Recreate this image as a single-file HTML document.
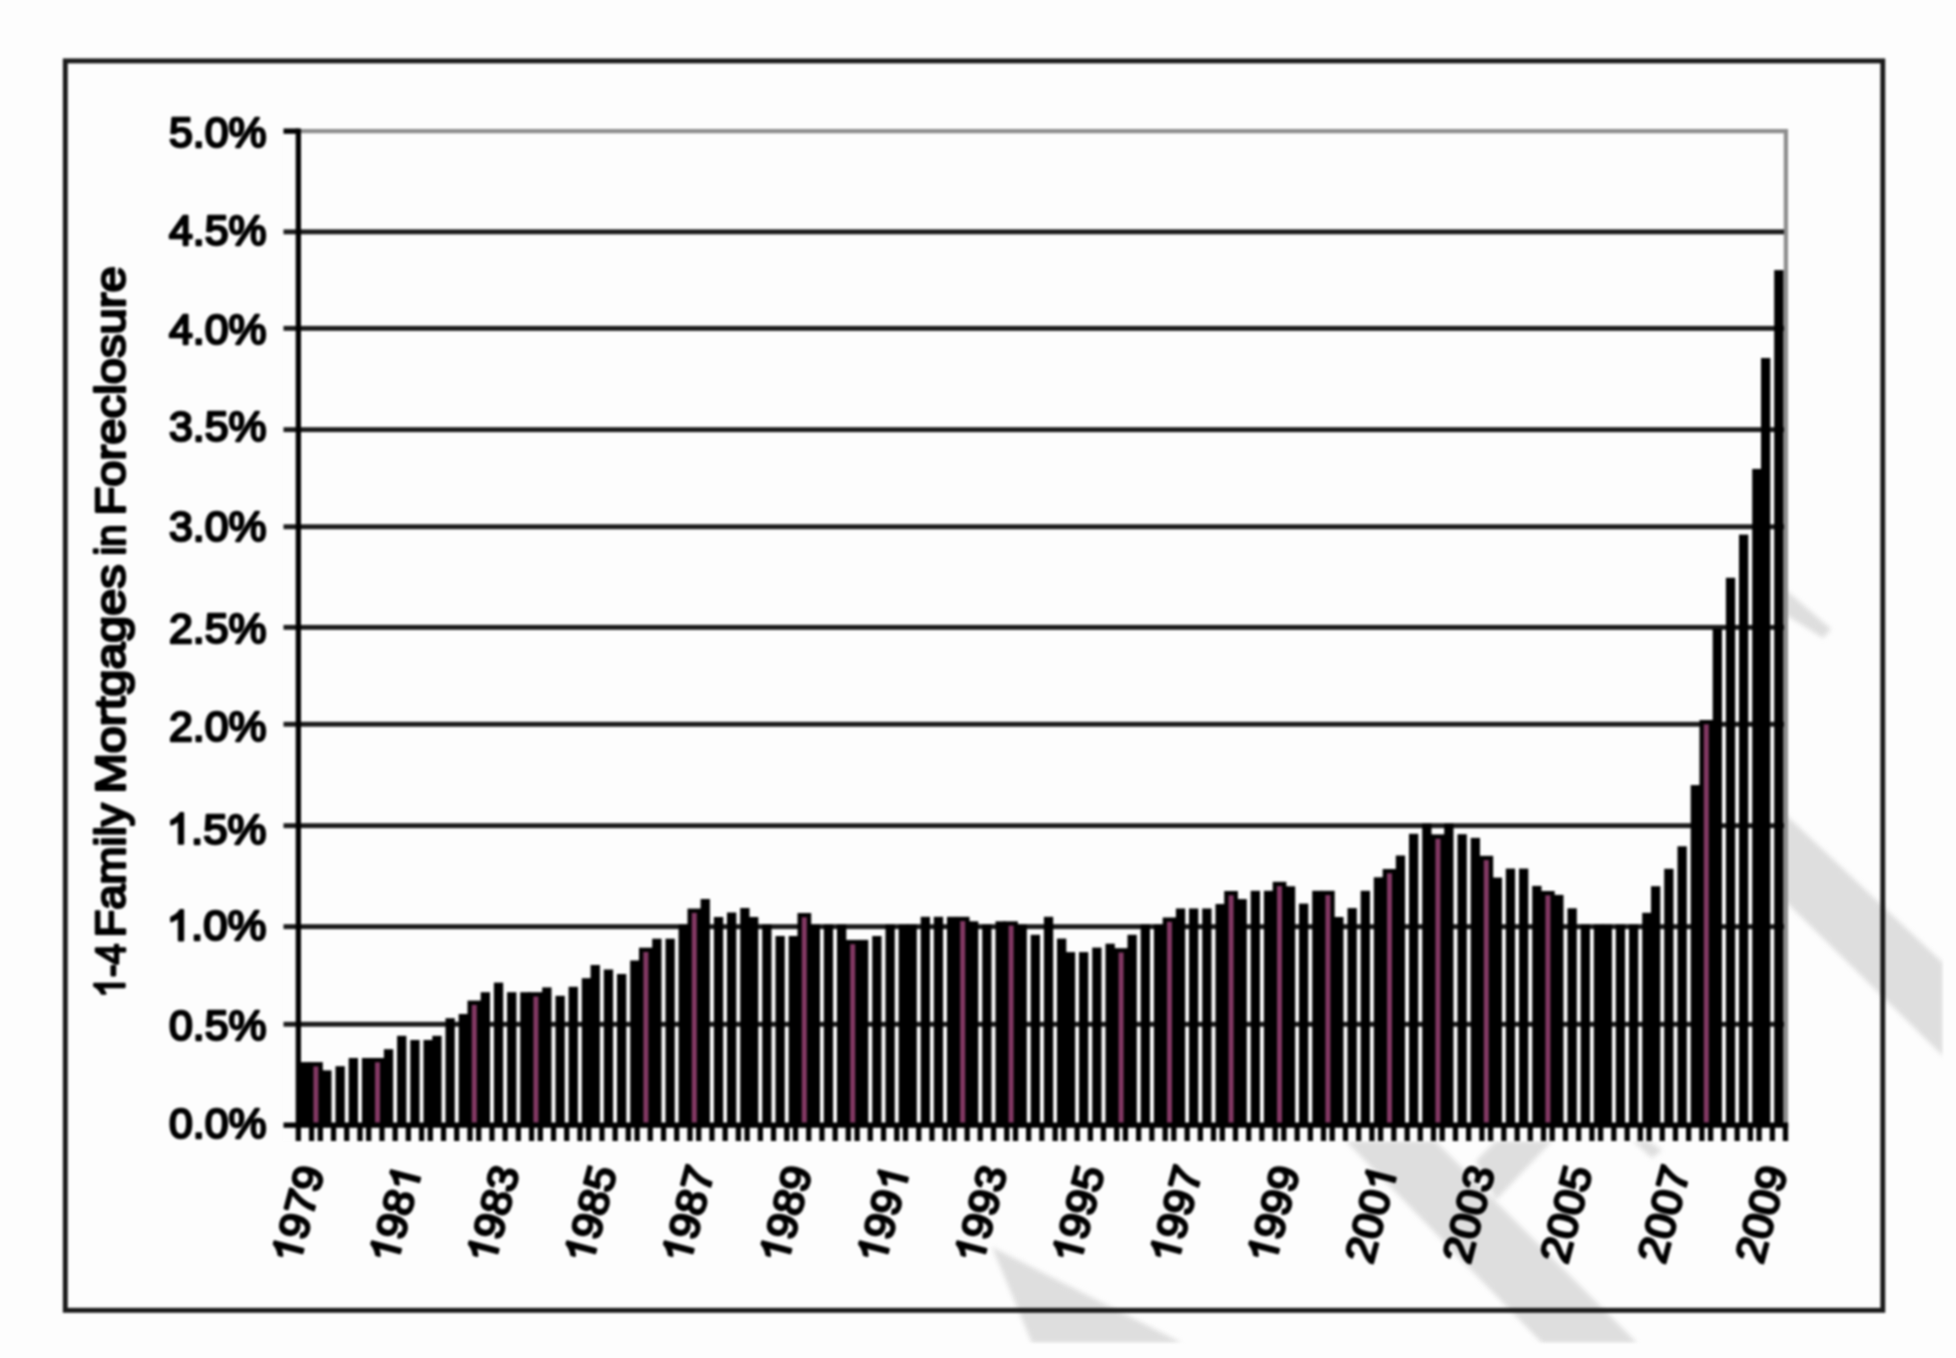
<!DOCTYPE html><html><head><meta charset="utf-8"><title>chart</title><style>html,body{margin:0;padding:0;background:#fdfdfd}body{width:1956px;height:1358px;overflow:hidden}svg{display:block}text{font-family:"Liberation Sans",sans-serif;fill:#000;stroke:#000;stroke-width:2.4px;stroke-linejoin:round}.g1 path{fill:#000;stroke:#000;stroke-linejoin:round}</style></head><body>
<svg width="1956" height="1358" viewBox="0 0 1956 1358">
<defs><filter id="b" color-interpolation-filters="sRGB" x="0" y="0" width="1956" height="1358" filterUnits="userSpaceOnUse"><feGaussianBlur stdDeviation="1.2" color-interpolation-filters="sRGB"/></filter><filter id="b2" color-interpolation-filters="sRGB" x="0" y="0" width="1956" height="1358" filterUnits="userSpaceOnUse"><feGaussianBlur stdDeviation="2.2" color-interpolation-filters="sRGB"/></filter><clipPath id="wm"><rect x="0" y="0" width="1943" height="1343"/></clipPath></defs>
<rect width="1956" height="1358" fill="#fdfdfd"/>
<g filter="url(#b)">
<g fill="#dedede" clip-path="url(#wm)"><g filter="url(#b2)">
<polygon points="992,1247 1032,1343 1182,1343"/>
<polygon points="1346,1141 1435,1141 1637,1343 1542,1343"/>
<polygon points="1476,1161 1496,1141 1552,1141 1496,1200"/>
<polygon points="1633,1141 1648,1141 1662,1150 1652,1158"/>
<polygon points="1786,815 1943,963 1943,1056 1786,902"/>
<polygon points="1786,590 1831,629 1823,638 1786,615"/>
</g></g>
<rect x="283" y="129" width="1505" height="1012" fill="#fdfdfd"/>
<rect x="65.3" y="60.9" width="1817.5" height="1249.4" fill="none" stroke="#1a1a1a" stroke-width="4.9"/>
<path d="M298,131.2H1785.9V1125" fill="none" stroke="#8e8e8e" stroke-width="4.3"/>
<rect x="283.5" y="229.4" width="1500.5" height="4.9" fill="#1a1a1a"/>
<rect x="283.5" y="325.9" width="1500.5" height="4.9" fill="#1a1a1a"/>
<rect x="283.5" y="427.2" width="1500.5" height="4.9" fill="#1a1a1a"/>
<rect x="283.5" y="524.3" width="1500.5" height="4.9" fill="#1a1a1a"/>
<rect x="283.5" y="624.9" width="1500.5" height="4.9" fill="#1a1a1a"/>
<rect x="283.5" y="721.8" width="1500.5" height="4.9" fill="#1a1a1a"/>
<rect x="283.5" y="823.2" width="1500.5" height="4.9" fill="#1a1a1a"/>
<rect x="283.5" y="924.2" width="1500.5" height="4.9" fill="#1a1a1a"/>
<rect x="283.5" y="1021.8" width="1500.5" height="4.9" fill="#1a1a1a"/>
<rect x="300.2" y="1062.1" width="9.3" height="63.1" fill="#000"/>
<rect x="309.1" y="1062.1" width="13.7" height="63.1" fill="#000"/>
<rect x="313.4" y="1066.4" width="5.0" height="58.8" fill="#823863"/>
<rect x="322.2" y="1070.4" width="9.3" height="54.8" fill="#000"/>
<rect x="335.5" y="1066.2" width="9.3" height="59.0" fill="#000"/>
<rect x="348.7" y="1058.0" width="9.3" height="67.2" fill="#000"/>
<rect x="361.9" y="1058.0" width="9.3" height="67.2" fill="#000"/>
<rect x="370.7" y="1058.0" width="13.7" height="67.2" fill="#000"/>
<rect x="375.0" y="1062.3" width="5.0" height="62.9" fill="#823863"/>
<rect x="383.9" y="1049.2" width="9.3" height="76.0" fill="#000"/>
<rect x="397.1" y="1035.8" width="9.3" height="89.4" fill="#000"/>
<rect x="410.3" y="1040.0" width="9.3" height="85.2" fill="#000"/>
<rect x="423.5" y="1040.0" width="9.3" height="85.2" fill="#000"/>
<rect x="432.3" y="1035.8" width="9.3" height="89.4" fill="#000"/>
<rect x="445.5" y="1018.2" width="9.3" height="107.0" fill="#000"/>
<rect x="458.7" y="1014.0" width="9.3" height="111.2" fill="#000"/>
<rect x="467.5" y="1000.6" width="13.7" height="124.6" fill="#000"/>
<rect x="471.8" y="1004.9" width="5.0" height="120.3" fill="#823863"/>
<rect x="480.7" y="992.2" width="9.3" height="133.0" fill="#000"/>
<rect x="493.9" y="982.6" width="9.3" height="142.6" fill="#000"/>
<rect x="507.1" y="992.2" width="9.3" height="133.0" fill="#000"/>
<rect x="520.2" y="992.2" width="9.3" height="133.0" fill="#000"/>
<rect x="529.0" y="992.2" width="13.7" height="133.0" fill="#000"/>
<rect x="533.4" y="996.5" width="5.0" height="128.7" fill="#823863"/>
<rect x="542.2" y="987.4" width="9.3" height="137.8" fill="#000"/>
<rect x="555.5" y="995.8" width="9.3" height="129.4" fill="#000"/>
<rect x="568.6" y="986.8" width="9.3" height="138.4" fill="#000"/>
<rect x="581.8" y="978.2" width="9.3" height="147.0" fill="#000"/>
<rect x="590.6" y="965.0" width="9.3" height="160.2" fill="#000"/>
<rect x="603.8" y="969.5" width="9.3" height="155.7" fill="#000"/>
<rect x="617.0" y="974.0" width="9.3" height="151.2" fill="#000"/>
<rect x="630.2" y="960.5" width="9.3" height="164.7" fill="#000"/>
<rect x="639.0" y="947.7" width="13.7" height="177.5" fill="#000"/>
<rect x="643.4" y="952.0" width="5.0" height="173.2" fill="#823863"/>
<rect x="652.2" y="938.7" width="9.3" height="186.5" fill="#000"/>
<rect x="665.5" y="938.7" width="9.3" height="186.5" fill="#000"/>
<rect x="678.6" y="924.5" width="9.3" height="200.7" fill="#000"/>
<rect x="687.5" y="908.6" width="13.7" height="216.6" fill="#000"/>
<rect x="691.8" y="912.9" width="5.0" height="212.3" fill="#823863"/>
<rect x="700.6" y="899.0" width="9.3" height="226.2" fill="#000"/>
<rect x="713.9" y="917.0" width="9.3" height="208.2" fill="#000"/>
<rect x="727.0" y="912.5" width="9.3" height="212.7" fill="#000"/>
<rect x="740.2" y="908.0" width="9.3" height="217.2" fill="#000"/>
<rect x="749.0" y="917.0" width="9.3" height="208.2" fill="#000"/>
<rect x="762.2" y="924.5" width="9.3" height="200.7" fill="#000"/>
<rect x="775.5" y="936.0" width="9.3" height="189.2" fill="#000"/>
<rect x="788.7" y="936.0" width="9.3" height="189.2" fill="#000"/>
<rect x="797.5" y="913.0" width="13.7" height="212.2" fill="#000"/>
<rect x="801.8" y="917.3" width="5.0" height="207.9" fill="#823863"/>
<rect x="810.7" y="924.5" width="9.3" height="200.7" fill="#000"/>
<rect x="823.8" y="924.5" width="9.3" height="200.7" fill="#000"/>
<rect x="837.0" y="924.5" width="9.3" height="200.7" fill="#000"/>
<rect x="845.8" y="939.9" width="13.7" height="185.3" fill="#000"/>
<rect x="850.2" y="944.2" width="5.0" height="181.0" fill="#823863"/>
<rect x="859.0" y="939.9" width="9.3" height="185.3" fill="#000"/>
<rect x="872.2" y="936.0" width="9.3" height="189.2" fill="#000"/>
<rect x="885.5" y="924.5" width="9.3" height="200.7" fill="#000"/>
<rect x="898.7" y="924.5" width="9.3" height="200.7" fill="#000"/>
<rect x="907.5" y="924.5" width="9.3" height="200.7" fill="#000"/>
<rect x="920.7" y="916.8" width="9.3" height="208.4" fill="#000"/>
<rect x="933.8" y="916.8" width="9.3" height="208.4" fill="#000"/>
<rect x="947.0" y="916.8" width="9.3" height="208.4" fill="#000"/>
<rect x="955.8" y="916.8" width="13.7" height="208.4" fill="#000"/>
<rect x="960.2" y="921.1" width="5.0" height="204.1" fill="#823863"/>
<rect x="969.0" y="921.3" width="9.3" height="203.9" fill="#000"/>
<rect x="982.2" y="924.5" width="9.3" height="200.7" fill="#000"/>
<rect x="995.5" y="921.3" width="9.3" height="203.9" fill="#000"/>
<rect x="1004.2" y="921.3" width="13.7" height="203.9" fill="#000"/>
<rect x="1008.6" y="925.6" width="5.0" height="199.6" fill="#823863"/>
<rect x="1017.5" y="924.5" width="9.3" height="200.7" fill="#000"/>
<rect x="1030.7" y="934.8" width="9.3" height="190.4" fill="#000"/>
<rect x="1043.9" y="916.8" width="9.3" height="208.4" fill="#000"/>
<rect x="1057.0" y="938.6" width="9.3" height="186.6" fill="#000"/>
<rect x="1065.9" y="952.1" width="9.3" height="173.1" fill="#000"/>
<rect x="1079.0" y="952.1" width="9.3" height="173.1" fill="#000"/>
<rect x="1092.2" y="947.6" width="9.3" height="177.6" fill="#000"/>
<rect x="1105.5" y="943.7" width="9.3" height="181.5" fill="#000"/>
<rect x="1114.2" y="948.2" width="13.7" height="177.0" fill="#000"/>
<rect x="1118.6" y="952.5" width="5.0" height="172.7" fill="#823863"/>
<rect x="1127.5" y="934.8" width="9.3" height="190.4" fill="#000"/>
<rect x="1140.7" y="924.5" width="9.3" height="200.7" fill="#000"/>
<rect x="1153.9" y="924.5" width="9.3" height="200.7" fill="#000"/>
<rect x="1162.7" y="917.5" width="13.7" height="207.7" fill="#000"/>
<rect x="1167.0" y="921.8" width="5.0" height="203.4" fill="#823863"/>
<rect x="1175.9" y="908.5" width="9.3" height="216.7" fill="#000"/>
<rect x="1189.0" y="908.5" width="9.3" height="216.7" fill="#000"/>
<rect x="1202.2" y="908.5" width="9.3" height="216.7" fill="#000"/>
<rect x="1215.5" y="904.0" width="9.3" height="221.2" fill="#000"/>
<rect x="1224.2" y="891.0" width="13.7" height="234.2" fill="#000"/>
<rect x="1228.6" y="895.3" width="5.0" height="229.9" fill="#823863"/>
<rect x="1237.5" y="899.1" width="9.3" height="226.1" fill="#000"/>
<rect x="1250.7" y="890.8" width="9.3" height="234.4" fill="#000"/>
<rect x="1263.9" y="890.8" width="9.3" height="234.4" fill="#000"/>
<rect x="1272.7" y="881.8" width="13.7" height="243.4" fill="#000"/>
<rect x="1277.0" y="886.1" width="5.0" height="239.1" fill="#823863"/>
<rect x="1285.9" y="886.3" width="9.3" height="238.9" fill="#000"/>
<rect x="1299.0" y="903.6" width="9.3" height="221.6" fill="#000"/>
<rect x="1312.2" y="890.8" width="9.3" height="234.4" fill="#000"/>
<rect x="1321.0" y="890.8" width="13.7" height="234.4" fill="#000"/>
<rect x="1325.4" y="895.1" width="5.0" height="230.1" fill="#823863"/>
<rect x="1334.2" y="917.0" width="9.3" height="208.2" fill="#000"/>
<rect x="1347.5" y="908.1" width="9.3" height="217.1" fill="#000"/>
<rect x="1360.7" y="890.8" width="9.3" height="234.4" fill="#000"/>
<rect x="1373.8" y="877.3" width="9.3" height="247.9" fill="#000"/>
<rect x="1382.7" y="869.0" width="13.7" height="256.2" fill="#000"/>
<rect x="1387.0" y="873.3" width="5.0" height="251.9" fill="#823863"/>
<rect x="1395.8" y="855.5" width="9.3" height="269.7" fill="#000"/>
<rect x="1409.0" y="833.8" width="9.3" height="291.4" fill="#000"/>
<rect x="1422.2" y="823.5" width="9.3" height="301.7" fill="#000"/>
<rect x="1431.0" y="834.4" width="13.7" height="290.8" fill="#000"/>
<rect x="1435.4" y="838.7" width="5.0" height="286.5" fill="#823863"/>
<rect x="1444.2" y="823.5" width="9.3" height="301.7" fill="#000"/>
<rect x="1457.5" y="834.2" width="9.3" height="291.0" fill="#000"/>
<rect x="1470.7" y="837.9" width="9.3" height="287.3" fill="#000"/>
<rect x="1479.5" y="855.8" width="13.7" height="269.4" fill="#000"/>
<rect x="1483.8" y="860.1" width="5.0" height="265.1" fill="#823863"/>
<rect x="1492.7" y="877.6" width="9.3" height="247.6" fill="#000"/>
<rect x="1505.8" y="868.6" width="9.3" height="256.6" fill="#000"/>
<rect x="1519.0" y="868.6" width="9.3" height="256.6" fill="#000"/>
<rect x="1532.2" y="885.9" width="9.3" height="239.3" fill="#000"/>
<rect x="1541.0" y="891.0" width="13.7" height="234.2" fill="#000"/>
<rect x="1545.4" y="895.3" width="5.0" height="229.9" fill="#823863"/>
<rect x="1554.2" y="894.9" width="9.3" height="230.3" fill="#000"/>
<rect x="1567.5" y="908.3" width="9.3" height="216.9" fill="#000"/>
<rect x="1580.7" y="924.5" width="9.3" height="200.7" fill="#000"/>
<rect x="1593.8" y="924.5" width="9.3" height="200.7" fill="#000"/>
<rect x="1602.7" y="924.5" width="9.3" height="200.7" fill="#000"/>
<rect x="1615.8" y="924.5" width="9.3" height="200.7" fill="#000"/>
<rect x="1629.0" y="924.5" width="9.3" height="200.7" fill="#000"/>
<rect x="1642.2" y="912.8" width="9.3" height="212.4" fill="#000"/>
<rect x="1651.0" y="886.2" width="9.3" height="239.0" fill="#000"/>
<rect x="1664.2" y="868.8" width="9.3" height="256.4" fill="#000"/>
<rect x="1677.5" y="846.3" width="9.3" height="278.9" fill="#000"/>
<rect x="1690.7" y="785.1" width="9.3" height="340.1" fill="#000"/>
<rect x="1699.5" y="720.0" width="13.7" height="405.2" fill="#000"/>
<rect x="1703.8" y="724.3" width="5.0" height="400.9" fill="#823863"/>
<rect x="1712.7" y="628.7" width="9.3" height="496.5" fill="#000"/>
<rect x="1725.9" y="577.8" width="9.3" height="547.4" fill="#000"/>
<rect x="1739.0" y="534.6" width="9.3" height="590.6" fill="#000"/>
<rect x="1752.2" y="468.9" width="9.3" height="656.3" fill="#000"/>
<rect x="1761.0" y="358.0" width="9.3" height="767.2" fill="#000"/>
<rect x="1774.2" y="270.1" width="9.3" height="855.1" fill="#000"/>
<rect x="308.1" y="1062.3" width="2.4" height="62.9" fill="#000"/>
<rect x="321.3" y="1070.6" width="2.4" height="54.6" fill="#000"/>
<rect x="369.7" y="1058.2" width="2.4" height="67.0" fill="#000"/>
<rect x="382.9" y="1058.2" width="2.4" height="67.0" fill="#000"/>
<rect x="431.3" y="1040.2" width="2.4" height="85.0" fill="#000"/>
<rect x="466.5" y="1014.2" width="2.4" height="111.0" fill="#000"/>
<rect x="479.7" y="1000.8" width="2.4" height="124.4" fill="#000"/>
<rect x="528.1" y="992.4" width="2.4" height="132.8" fill="#000"/>
<rect x="541.3" y="992.4" width="2.4" height="132.8" fill="#000"/>
<rect x="589.7" y="978.4" width="2.4" height="146.8" fill="#000"/>
<rect x="638.1" y="960.7" width="2.4" height="164.5" fill="#000"/>
<rect x="651.3" y="947.9" width="2.4" height="177.3" fill="#000"/>
<rect x="686.5" y="924.7" width="2.4" height="200.5" fill="#000"/>
<rect x="699.7" y="908.8" width="2.4" height="216.4" fill="#000"/>
<rect x="748.1" y="917.2" width="2.4" height="208.0" fill="#000"/>
<rect x="796.5" y="936.2" width="2.4" height="189.0" fill="#000"/>
<rect x="809.7" y="924.7" width="2.4" height="200.5" fill="#000"/>
<rect x="844.9" y="940.1" width="2.4" height="185.1" fill="#000"/>
<rect x="858.1" y="940.1" width="2.4" height="185.1" fill="#000"/>
<rect x="906.5" y="924.7" width="2.4" height="200.5" fill="#000"/>
<rect x="954.9" y="917.0" width="2.4" height="208.2" fill="#000"/>
<rect x="968.1" y="921.5" width="2.4" height="203.7" fill="#000"/>
<rect x="1003.3" y="921.5" width="2.4" height="203.7" fill="#000"/>
<rect x="1016.5" y="924.7" width="2.4" height="200.5" fill="#000"/>
<rect x="1064.9" y="952.3" width="2.4" height="172.9" fill="#000"/>
<rect x="1113.3" y="948.4" width="2.4" height="176.8" fill="#000"/>
<rect x="1126.5" y="948.4" width="2.4" height="176.8" fill="#000"/>
<rect x="1161.7" y="924.7" width="2.4" height="200.5" fill="#000"/>
<rect x="1174.9" y="917.7" width="2.4" height="207.5" fill="#000"/>
<rect x="1223.3" y="904.2" width="2.4" height="221.0" fill="#000"/>
<rect x="1236.5" y="899.3" width="2.4" height="225.9" fill="#000"/>
<rect x="1271.7" y="891.0" width="2.4" height="234.2" fill="#000"/>
<rect x="1284.9" y="886.5" width="2.4" height="238.7" fill="#000"/>
<rect x="1320.1" y="891.0" width="2.4" height="234.2" fill="#000"/>
<rect x="1333.3" y="917.2" width="2.4" height="208.0" fill="#000"/>
<rect x="1381.7" y="877.5" width="2.4" height="247.7" fill="#000"/>
<rect x="1394.9" y="869.2" width="2.4" height="256.0" fill="#000"/>
<rect x="1430.1" y="834.6" width="2.4" height="290.6" fill="#000"/>
<rect x="1443.3" y="834.6" width="2.4" height="290.6" fill="#000"/>
<rect x="1478.5" y="856.0" width="2.4" height="269.2" fill="#000"/>
<rect x="1491.7" y="877.8" width="2.4" height="247.4" fill="#000"/>
<rect x="1540.1" y="891.2" width="2.4" height="234.0" fill="#000"/>
<rect x="1553.3" y="895.1" width="2.4" height="230.1" fill="#000"/>
<rect x="1601.7" y="924.7" width="2.4" height="200.5" fill="#000"/>
<rect x="1650.1" y="913.0" width="2.4" height="212.2" fill="#000"/>
<rect x="1698.5" y="785.3" width="2.4" height="339.9" fill="#000"/>
<rect x="1711.7" y="720.2" width="2.4" height="405.0" fill="#000"/>
<rect x="1760.1" y="469.1" width="2.4" height="656.1" fill="#000"/>
<rect x="295.7" y="128.5" width="5.3" height="999.4" fill="#000"/>
<rect x="283.5" y="1122.5" width="1504.7" height="5.3" fill="#000"/>
<rect x="283.5" y="128.5" width="15" height="5.3" fill="#000"/>
<rect x="295.7" y="1125.2" width="5.3" height="15.8" fill="#000"/>
<rect x="308.9" y="1125.2" width="5.3" height="15.8" fill="#000"/>
<rect x="317.7" y="1125.2" width="5.3" height="15.8" fill="#000"/>
<rect x="330.9" y="1125.2" width="5.3" height="15.8" fill="#000"/>
<rect x="344.1" y="1125.2" width="5.3" height="15.8" fill="#000"/>
<rect x="357.3" y="1125.2" width="5.3" height="15.8" fill="#000"/>
<rect x="366.1" y="1125.2" width="5.3" height="15.8" fill="#000"/>
<rect x="379.3" y="1125.2" width="5.3" height="15.8" fill="#000"/>
<rect x="392.5" y="1125.2" width="5.3" height="15.8" fill="#000"/>
<rect x="405.7" y="1125.2" width="5.3" height="15.8" fill="#000"/>
<rect x="418.9" y="1125.2" width="5.3" height="15.8" fill="#000"/>
<rect x="427.7" y="1125.2" width="5.3" height="15.8" fill="#000"/>
<rect x="440.9" y="1125.2" width="5.3" height="15.8" fill="#000"/>
<rect x="454.1" y="1125.2" width="5.3" height="15.8" fill="#000"/>
<rect x="467.3" y="1125.2" width="5.3" height="15.8" fill="#000"/>
<rect x="476.1" y="1125.2" width="5.3" height="15.8" fill="#000"/>
<rect x="489.3" y="1125.2" width="5.3" height="15.8" fill="#000"/>
<rect x="502.5" y="1125.2" width="5.3" height="15.8" fill="#000"/>
<rect x="515.7" y="1125.2" width="5.3" height="15.8" fill="#000"/>
<rect x="528.9" y="1125.2" width="5.3" height="15.8" fill="#000"/>
<rect x="537.7" y="1125.2" width="5.3" height="15.8" fill="#000"/>
<rect x="550.9" y="1125.2" width="5.3" height="15.8" fill="#000"/>
<rect x="564.1" y="1125.2" width="5.3" height="15.8" fill="#000"/>
<rect x="577.3" y="1125.2" width="5.3" height="15.8" fill="#000"/>
<rect x="586.1" y="1125.2" width="5.3" height="15.8" fill="#000"/>
<rect x="599.3" y="1125.2" width="5.3" height="15.8" fill="#000"/>
<rect x="612.5" y="1125.2" width="5.3" height="15.8" fill="#000"/>
<rect x="625.6" y="1125.2" width="5.3" height="15.8" fill="#000"/>
<rect x="634.5" y="1125.2" width="5.3" height="15.8" fill="#000"/>
<rect x="647.6" y="1125.2" width="5.3" height="15.8" fill="#000"/>
<rect x="660.9" y="1125.2" width="5.3" height="15.8" fill="#000"/>
<rect x="674.1" y="1125.2" width="5.3" height="15.8" fill="#000"/>
<rect x="687.3" y="1125.2" width="5.3" height="15.8" fill="#000"/>
<rect x="696.1" y="1125.2" width="5.3" height="15.8" fill="#000"/>
<rect x="709.3" y="1125.2" width="5.3" height="15.8" fill="#000"/>
<rect x="722.5" y="1125.2" width="5.3" height="15.8" fill="#000"/>
<rect x="735.7" y="1125.2" width="5.3" height="15.8" fill="#000"/>
<rect x="744.5" y="1125.2" width="5.3" height="15.8" fill="#000"/>
<rect x="757.7" y="1125.2" width="5.3" height="15.8" fill="#000"/>
<rect x="770.9" y="1125.2" width="5.3" height="15.8" fill="#000"/>
<rect x="784.1" y="1125.2" width="5.3" height="15.8" fill="#000"/>
<rect x="792.9" y="1125.2" width="5.3" height="15.8" fill="#000"/>
<rect x="806.1" y="1125.2" width="5.3" height="15.8" fill="#000"/>
<rect x="819.3" y="1125.2" width="5.3" height="15.8" fill="#000"/>
<rect x="832.5" y="1125.2" width="5.3" height="15.8" fill="#000"/>
<rect x="845.6" y="1125.2" width="5.3" height="15.8" fill="#000"/>
<rect x="854.5" y="1125.2" width="5.3" height="15.8" fill="#000"/>
<rect x="867.6" y="1125.2" width="5.3" height="15.8" fill="#000"/>
<rect x="880.9" y="1125.2" width="5.3" height="15.8" fill="#000"/>
<rect x="894.1" y="1125.2" width="5.3" height="15.8" fill="#000"/>
<rect x="902.9" y="1125.2" width="5.3" height="15.8" fill="#000"/>
<rect x="916.1" y="1125.2" width="5.3" height="15.8" fill="#000"/>
<rect x="929.3" y="1125.2" width="5.3" height="15.8" fill="#000"/>
<rect x="942.5" y="1125.2" width="5.3" height="15.8" fill="#000"/>
<rect x="951.3" y="1125.2" width="5.3" height="15.8" fill="#000"/>
<rect x="964.5" y="1125.2" width="5.3" height="15.8" fill="#000"/>
<rect x="977.6" y="1125.2" width="5.3" height="15.8" fill="#000"/>
<rect x="990.9" y="1125.2" width="5.3" height="15.8" fill="#000"/>
<rect x="1004.1" y="1125.2" width="5.3" height="15.8" fill="#000"/>
<rect x="1012.9" y="1125.2" width="5.3" height="15.8" fill="#000"/>
<rect x="1026.0" y="1125.2" width="5.3" height="15.8" fill="#000"/>
<rect x="1039.2" y="1125.2" width="5.3" height="15.8" fill="#000"/>
<rect x="1052.5" y="1125.2" width="5.3" height="15.8" fill="#000"/>
<rect x="1061.2" y="1125.2" width="5.3" height="15.8" fill="#000"/>
<rect x="1074.5" y="1125.2" width="5.3" height="15.8" fill="#000"/>
<rect x="1087.7" y="1125.2" width="5.3" height="15.8" fill="#000"/>
<rect x="1100.8" y="1125.2" width="5.3" height="15.8" fill="#000"/>
<rect x="1114.0" y="1125.2" width="5.3" height="15.8" fill="#000"/>
<rect x="1122.8" y="1125.2" width="5.3" height="15.8" fill="#000"/>
<rect x="1136.0" y="1125.2" width="5.3" height="15.8" fill="#000"/>
<rect x="1149.2" y="1125.2" width="5.3" height="15.8" fill="#000"/>
<rect x="1162.5" y="1125.2" width="5.3" height="15.8" fill="#000"/>
<rect x="1171.2" y="1125.2" width="5.3" height="15.8" fill="#000"/>
<rect x="1184.5" y="1125.2" width="5.3" height="15.8" fill="#000"/>
<rect x="1197.7" y="1125.2" width="5.3" height="15.8" fill="#000"/>
<rect x="1210.8" y="1125.2" width="5.3" height="15.8" fill="#000"/>
<rect x="1219.7" y="1125.2" width="5.3" height="15.8" fill="#000"/>
<rect x="1232.8" y="1125.2" width="5.3" height="15.8" fill="#000"/>
<rect x="1246.0" y="1125.2" width="5.3" height="15.8" fill="#000"/>
<rect x="1259.2" y="1125.2" width="5.3" height="15.8" fill="#000"/>
<rect x="1272.5" y="1125.2" width="5.3" height="15.8" fill="#000"/>
<rect x="1281.2" y="1125.2" width="5.3" height="15.8" fill="#000"/>
<rect x="1294.5" y="1125.2" width="5.3" height="15.8" fill="#000"/>
<rect x="1307.7" y="1125.2" width="5.3" height="15.8" fill="#000"/>
<rect x="1320.8" y="1125.2" width="5.3" height="15.8" fill="#000"/>
<rect x="1329.6" y="1125.2" width="5.3" height="15.8" fill="#000"/>
<rect x="1342.8" y="1125.2" width="5.3" height="15.8" fill="#000"/>
<rect x="1356.0" y="1125.2" width="5.3" height="15.8" fill="#000"/>
<rect x="1369.2" y="1125.2" width="5.3" height="15.8" fill="#000"/>
<rect x="1378.0" y="1125.2" width="5.3" height="15.8" fill="#000"/>
<rect x="1391.2" y="1125.2" width="5.3" height="15.8" fill="#000"/>
<rect x="1404.5" y="1125.2" width="5.3" height="15.8" fill="#000"/>
<rect x="1417.6" y="1125.2" width="5.3" height="15.8" fill="#000"/>
<rect x="1430.8" y="1125.2" width="5.3" height="15.8" fill="#000"/>
<rect x="1439.6" y="1125.2" width="5.3" height="15.8" fill="#000"/>
<rect x="1452.8" y="1125.2" width="5.3" height="15.8" fill="#000"/>
<rect x="1466.0" y="1125.2" width="5.3" height="15.8" fill="#000"/>
<rect x="1479.2" y="1125.2" width="5.3" height="15.8" fill="#000"/>
<rect x="1488.0" y="1125.2" width="5.3" height="15.8" fill="#000"/>
<rect x="1501.2" y="1125.2" width="5.3" height="15.8" fill="#000"/>
<rect x="1514.5" y="1125.2" width="5.3" height="15.8" fill="#000"/>
<rect x="1527.6" y="1125.2" width="5.3" height="15.8" fill="#000"/>
<rect x="1540.8" y="1125.2" width="5.3" height="15.8" fill="#000"/>
<rect x="1549.6" y="1125.2" width="5.3" height="15.8" fill="#000"/>
<rect x="1562.8" y="1125.2" width="5.3" height="15.8" fill="#000"/>
<rect x="1576.0" y="1125.2" width="5.3" height="15.8" fill="#000"/>
<rect x="1589.2" y="1125.2" width="5.3" height="15.8" fill="#000"/>
<rect x="1598.0" y="1125.2" width="5.3" height="15.8" fill="#000"/>
<rect x="1611.2" y="1125.2" width="5.3" height="15.8" fill="#000"/>
<rect x="1624.5" y="1125.2" width="5.3" height="15.8" fill="#000"/>
<rect x="1637.6" y="1125.2" width="5.3" height="15.8" fill="#000"/>
<rect x="1646.5" y="1125.2" width="5.3" height="15.8" fill="#000"/>
<rect x="1659.6" y="1125.2" width="5.3" height="15.8" fill="#000"/>
<rect x="1672.8" y="1125.2" width="5.3" height="15.8" fill="#000"/>
<rect x="1686.0" y="1125.2" width="5.3" height="15.8" fill="#000"/>
<rect x="1699.2" y="1125.2" width="5.3" height="15.8" fill="#000"/>
<rect x="1708.0" y="1125.2" width="5.3" height="15.8" fill="#000"/>
<rect x="1721.2" y="1125.2" width="5.3" height="15.8" fill="#000"/>
<rect x="1734.5" y="1125.2" width="5.3" height="15.8" fill="#000"/>
<rect x="1747.7" y="1125.2" width="5.3" height="15.8" fill="#000"/>
<rect x="1756.5" y="1125.2" width="5.3" height="15.8" fill="#000"/>
<rect x="1769.7" y="1125.2" width="5.3" height="15.8" fill="#000"/>
<rect x="1782.8" y="1125.2" width="5.3" height="15.8" fill="#000"/>
<text x="266.5" y="146.9" font-size="42" text-anchor="end" textLength="97.5" lengthAdjust="spacingAndGlyphs">5.0%</text>
<text x="266.5" y="244.7" font-size="42" text-anchor="end" textLength="97.5" lengthAdjust="spacingAndGlyphs">4.5%</text>
<text x="266.5" y="344.3" font-size="42" text-anchor="end" textLength="97.5" lengthAdjust="spacingAndGlyphs">4.0%</text>
<text x="266.5" y="440.7" font-size="42" text-anchor="end" textLength="97.5" lengthAdjust="spacingAndGlyphs">3.5%</text>
<text x="266.5" y="540.8" font-size="42" text-anchor="end" textLength="97.5" lengthAdjust="spacingAndGlyphs">3.0%</text>
<text x="266.5" y="642.6" font-size="42" text-anchor="end" textLength="97.5" lengthAdjust="spacingAndGlyphs">2.5%</text>
<text x="266.5" y="741.1" font-size="42" text-anchor="end" textLength="97.5" lengthAdjust="spacingAndGlyphs">2.0%</text>
<g transform="translate(0,843.5)" class="g1">
<path d="M763 0H583V-1147Q518-1085 412.5-1023Q307-961 223-930V-1104Q374-1175 487-1276Q600-1377 647-1472H763Z" transform="translate(166.58,0) scale(0.02141,0.02051)" stroke-width="117.0"/>
<text x="266.5" y="0" font-size="42" text-anchor="end" textLength="75.5" lengthAdjust="spacingAndGlyphs">.5%</text></g>
<g transform="translate(0,940.3)" class="g1">
<path d="M763 0H583V-1147Q518-1085 412.5-1023Q307-961 223-930V-1104Q374-1175 487-1276Q600-1377 647-1472H763Z" transform="translate(166.58,0) scale(0.02141,0.02051)" stroke-width="117.0"/>
<text x="266.5" y="0" font-size="42" text-anchor="end" textLength="75.5" lengthAdjust="spacingAndGlyphs">.0%</text></g>
<text x="266.5" y="1039.8" font-size="42" text-anchor="end" textLength="97.5" lengthAdjust="spacingAndGlyphs">0.5%</text>
<text x="266.5" y="1138.2" font-size="42" text-anchor="end" textLength="97.5" lengthAdjust="spacingAndGlyphs">0.0%</text>
<g transform="translate(124.5,997.8) rotate(-90)" class="g1">
<path d="M763 0H583V-1147Q518-1085 412.5-1023Q307-961 223-930V-1104Q374-1175 487-1276Q600-1377 647-1472H763Z" transform="translate(0.00,0) scale(0.01835,0.02051)" stroke-width="117.0"/>
<text x="20.9" y="0" font-size="42" textLength="33.4" lengthAdjust="spacingAndGlyphs">-4</text></g>
<text transform="translate(124.5,937.5) rotate(-90)" font-size="42" textLength="134.0" lengthAdjust="spacingAndGlyphs">Family</text>
<text transform="translate(124.5,793.5) rotate(-90)" font-size="42" textLength="229.0" lengthAdjust="spacingAndGlyphs">Mortgages</text>
<text transform="translate(124.5,555.5) rotate(-90)" font-size="42" textLength="31.0" lengthAdjust="spacingAndGlyphs">in</text>
<text transform="translate(124.5,515.5) rotate(-90)" font-size="42" textLength="249.3" lengthAdjust="spacingAndGlyphs">Foreclosure</text>
<g transform="translate(297.7,1214) rotate(-75) translate(-49.1,14.6)" class="g1">
<path d="M763 0H583V-1147Q518-1085 412.5-1023Q307-961 223-930V-1104Q374-1175 487-1276Q600-1377 647-1472H763Z" transform="translate(0.00,0) scale(0.02158,0.02026)" stroke-width="118.4"/>
<text x="24.6" y="0" font-size="41.5" textLength="73.7" lengthAdjust="spacingAndGlyphs">979</text>
</g>
<g transform="translate(395.2,1214) rotate(-75) translate(-49.1,14.6)" class="g1">
<path d="M763 0H583V-1147Q518-1085 412.5-1023Q307-961 223-930V-1104Q374-1175 487-1276Q600-1377 647-1472H763Z" transform="translate(0.00,0) scale(0.02158,0.02026)" stroke-width="118.4"/>
<text x="24.6" y="0" font-size="41.5" textLength="49.1" lengthAdjust="spacingAndGlyphs">98</text>
<path d="M763 0H583V-1147Q518-1085 412.5-1023Q307-961 223-930V-1104Q374-1175 487-1276Q600-1377 647-1472H763Z" transform="translate(73.72,0) scale(0.02158,0.02026)" stroke-width="118.4"/>
</g>
<g transform="translate(492.8,1214) rotate(-75) translate(-49.1,14.6)" class="g1">
<path d="M763 0H583V-1147Q518-1085 412.5-1023Q307-961 223-930V-1104Q374-1175 487-1276Q600-1377 647-1472H763Z" transform="translate(0.00,0) scale(0.02158,0.02026)" stroke-width="118.4"/>
<text x="24.6" y="0" font-size="41.5" textLength="73.7" lengthAdjust="spacingAndGlyphs">983</text>
</g>
<g transform="translate(590.4,1214) rotate(-75) translate(-49.1,14.6)" class="g1">
<path d="M763 0H583V-1147Q518-1085 412.5-1023Q307-961 223-930V-1104Q374-1175 487-1276Q600-1377 647-1472H763Z" transform="translate(0.00,0) scale(0.02158,0.02026)" stroke-width="118.4"/>
<text x="24.6" y="0" font-size="41.5" textLength="73.7" lengthAdjust="spacingAndGlyphs">985</text>
</g>
<g transform="translate(687.9,1214) rotate(-75) translate(-49.1,14.6)" class="g1">
<path d="M763 0H583V-1147Q518-1085 412.5-1023Q307-961 223-930V-1104Q374-1175 487-1276Q600-1377 647-1472H763Z" transform="translate(0.00,0) scale(0.02158,0.02026)" stroke-width="118.4"/>
<text x="24.6" y="0" font-size="41.5" textLength="73.7" lengthAdjust="spacingAndGlyphs">987</text>
</g>
<g transform="translate(785.5,1214) rotate(-75) translate(-49.1,14.6)" class="g1">
<path d="M763 0H583V-1147Q518-1085 412.5-1023Q307-961 223-930V-1104Q374-1175 487-1276Q600-1377 647-1472H763Z" transform="translate(0.00,0) scale(0.02158,0.02026)" stroke-width="118.4"/>
<text x="24.6" y="0" font-size="41.5" textLength="73.7" lengthAdjust="spacingAndGlyphs">989</text>
</g>
<g transform="translate(883.0,1214) rotate(-75) translate(-49.1,14.6)" class="g1">
<path d="M763 0H583V-1147Q518-1085 412.5-1023Q307-961 223-930V-1104Q374-1175 487-1276Q600-1377 647-1472H763Z" transform="translate(0.00,0) scale(0.02158,0.02026)" stroke-width="118.4"/>
<text x="24.6" y="0" font-size="41.5" textLength="49.1" lengthAdjust="spacingAndGlyphs">99</text>
<path d="M763 0H583V-1147Q518-1085 412.5-1023Q307-961 223-930V-1104Q374-1175 487-1276Q600-1377 647-1472H763Z" transform="translate(73.72,0) scale(0.02158,0.02026)" stroke-width="118.4"/>
</g>
<g transform="translate(980.6,1214) rotate(-75) translate(-49.1,14.6)" class="g1">
<path d="M763 0H583V-1147Q518-1085 412.5-1023Q307-961 223-930V-1104Q374-1175 487-1276Q600-1377 647-1472H763Z" transform="translate(0.00,0) scale(0.02158,0.02026)" stroke-width="118.4"/>
<text x="24.6" y="0" font-size="41.5" textLength="73.7" lengthAdjust="spacingAndGlyphs">993</text>
</g>
<g transform="translate(1078.1,1214) rotate(-75) translate(-49.1,14.6)" class="g1">
<path d="M763 0H583V-1147Q518-1085 412.5-1023Q307-961 223-930V-1104Q374-1175 487-1276Q600-1377 647-1472H763Z" transform="translate(0.00,0) scale(0.02158,0.02026)" stroke-width="118.4"/>
<text x="24.6" y="0" font-size="41.5" textLength="73.7" lengthAdjust="spacingAndGlyphs">995</text>
</g>
<g transform="translate(1175.6,1214) rotate(-75) translate(-49.1,14.6)" class="g1">
<path d="M763 0H583V-1147Q518-1085 412.5-1023Q307-961 223-930V-1104Q374-1175 487-1276Q600-1377 647-1472H763Z" transform="translate(0.00,0) scale(0.02158,0.02026)" stroke-width="118.4"/>
<text x="24.6" y="0" font-size="41.5" textLength="73.7" lengthAdjust="spacingAndGlyphs">997</text>
</g>
<g transform="translate(1273.2,1214) rotate(-75) translate(-49.1,14.6)" class="g1">
<path d="M763 0H583V-1147Q518-1085 412.5-1023Q307-961 223-930V-1104Q374-1175 487-1276Q600-1377 647-1472H763Z" transform="translate(0.00,0) scale(0.02158,0.02026)" stroke-width="118.4"/>
<text x="24.6" y="0" font-size="41.5" textLength="73.7" lengthAdjust="spacingAndGlyphs">999</text>
</g>
<g transform="translate(1370.8,1214) rotate(-75) translate(-49.1,14.6)" class="g1">
<text x="0.0" y="0" font-size="41.5" textLength="73.7" lengthAdjust="spacingAndGlyphs">200</text>
<path d="M763 0H583V-1147Q518-1085 412.5-1023Q307-961 223-930V-1104Q374-1175 487-1276Q600-1377 647-1472H763Z" transform="translate(73.72,0) scale(0.02158,0.02026)" stroke-width="118.4"/>
</g>
<g transform="translate(1468.3,1214) rotate(-75) translate(-49.1,14.6)" class="g1">
<text x="0.0" y="0" font-size="41.5" textLength="98.3" lengthAdjust="spacingAndGlyphs">2003</text>
</g>
<g transform="translate(1565.8,1214) rotate(-75) translate(-49.1,14.6)" class="g1">
<text x="0.0" y="0" font-size="41.5" textLength="98.3" lengthAdjust="spacingAndGlyphs">2005</text>
</g>
<g transform="translate(1663.4,1214) rotate(-75) translate(-49.1,14.6)" class="g1">
<text x="0.0" y="0" font-size="41.5" textLength="98.3" lengthAdjust="spacingAndGlyphs">2007</text>
</g>
<g transform="translate(1761.0,1214) rotate(-75) translate(-49.1,14.6)" class="g1">
<text x="0.0" y="0" font-size="41.5" textLength="98.3" lengthAdjust="spacingAndGlyphs">2009</text>
</g>
</g></svg></body></html>
